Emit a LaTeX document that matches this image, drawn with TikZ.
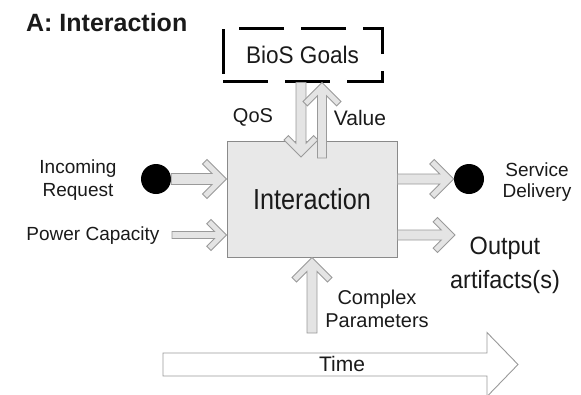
\documentclass[tikz,border=0pt]{standalone}
\usepackage{fontspec}
\setmainfont{Liberation Sans}
\newfontfamily\narrowfont{Liberation Sans}[FakeStretch=0.87]
\newfontfamily\midfont{Liberation Sans}[FakeStretch=0.94]
\usetikzlibrary{calc}

% Fat arrow with a notched chevron head: from, to, shaft half-width,
% head half-height, arm thickness
\newcommand\fatarrow[5]{%
  \path let \p1=($(#2)-(#1)$) in
    \pgfextra{\pgfmathsetmacro\tmpang{atan2(\y1,\x1)}%
              \pgfmathsetmacro\tmplen{veclen(\x1,\y1)}%
              \xdef\fatang{\tmpang}\xdef\fatlen{\tmplen}};
  \begin{scope}[shift={(#2)}, rotate=\fatang]
    \pgfmathsetmacro\fa{#4}%
    \pgfmathsetmacro\fb{#4+#5*0.7071}%
    \pgfmathsetmacro\fc{#4-#5*0.7071}%
    \pgfmathsetmacro\fd{#5*1.4142+#3}%
    \draw[fatline] (-\fatlen,#3) -- (-\fd,#3) -- (-\fb,\fc) -- (-\fa,\fa)
      -- (0,0) -- (-\fa,-\fa) -- (-\fb,-\fc) -- (-\fd,-#3) -- (-\fatlen,-#3) -- cycle;
  \end{scope}}

\definecolor{arrowfill}{HTML}{E4E4E4}
\definecolor{arrowedge}{HTML}{9A9A9A}
\definecolor{boxfill}{HTML}{E8E8E8}
\definecolor{boxedge}{HTML}{8A8A8A}
\definecolor{inktext}{HTML}{1A1A1A}

\tikzset{
  fatline/.style={fill=arrowfill, draw=arrowedge, line width=0.9pt, line join=miter},
  mainbox/.style={draw=boxedge, fill=boxfill, line width=0.9pt,
    minimum width=170pt, minimum height=116pt, inner sep=0pt,
    font=\narrowfont\fontsize{29}{32}\selectfont, text=inktext},
  goalbox/.style={draw=black, line width=3pt, dash pattern=on 45pt off 17pt,
    minimum width=159pt, minimum height=53pt, inner sep=0pt,
    font=\midfont\fontsize{24}{27}\selectfont, text=inktext},
  dot/.style={circle, fill=black, minimum size=30pt, inner sep=0pt},
  lbl/.style={font=\fontsize{19}{23}\selectfont, align=center, text=inktext, inner sep=0pt},
  timeline/.style={fill=white, draw=arrowedge, line width=0.9pt, line join=miter},
}

\begin{document}
\begin{tikzpicture}[x=1pt, y=-1pt]
\useasboundingbox (0,0) rectangle (581,394);

% title
\node[anchor=west, font=\bfseries\fontsize{25}{28}\selectfont, text=inktext, inner sep=0pt]
  (title) at (26,23) {A: Interaction};

% time axis
\coordinate (tstart) at (163,364.5);
\coordinate (ttip) at (518,364.5);
\draw[timeline] ($(tstart)+(0,-11.5)$) -- ($(ttip)+(-31,-11.5)$) -- ($(ttip)+(-31,-32)$)
  -- (ttip) -- ($(ttip)+(-31,32)$) -- ($(ttip)+(-31,11.5)$) -- ($(tstart)+(0,11.5)$) -- cycle;
\node[lbl, font=\fontsize{21}{24}\selectfont] (time) at (342,364) {Time};

% main blocks
\node[goalbox] (goals) at (302.5,54.5) {BioS Goals};
\node[mainbox] (inter) at (312,199) {Interaction};

% end points
\node[dot] (inreq) at (156,179) {};
\node[dot] (svc) at (469,179) {};
\coordinate (pwrstart) at (172,235);
\coordinate (outtip) at (455,235);
\coordinate (qostip) at (301,157);
\coordinate (valstart) at (322,158);
\coordinate (cpstart) at (312,333);

% flows
\fatarrow{inreq.east}{inter.west |- inreq}{5.5}{19.5}{6.4}
\fatarrow{pwrstart}{inter.west |- pwrstart}{3.5}{15.5}{6}
\fatarrow{inter.east |- svc}{svc.west}{5}{19.5}{6.4}
\fatarrow{inter.east |- outtip}{outtip}{5}{17.5}{6.2}
\fatarrow{goals.south -| qostip}{qostip}{5}{17}{6.2}
\fatarrow{valstart}{goals.south -| valstart}{4.5}{19}{6.2}
\fatarrow{cpstart}{inter.south -| cpstart}{5}{20}{6.4}

% labels
\node[lbl, font=\fontsize{20}{23}\selectfont] (qos) at (253,117) {QoS};
\node[lbl, font=\fontsize{21}{24}\selectfont] (value) at (360,118) {Value};
\node[lbl] (inlbl) at (78,180.5) {Incoming\\Request};
\node[lbl] (pwrlbl) at (93,236) {Power Capacity};
\node[lbl, font=\fontsize{19}{21}\selectfont] (svclbl) at (537,182.5) {Service\\Delivery};
\node[lbl, font=\midfont\fontsize{25}{34}\selectfont] (outlbl) at (505,265) {Output\\artifacts(s)};
\node[lbl, font=\fontsize{20}{23}\selectfont] (cplbl) at (377,308.5) {Complex\\Parameters};
\end{tikzpicture}
\end{document}
